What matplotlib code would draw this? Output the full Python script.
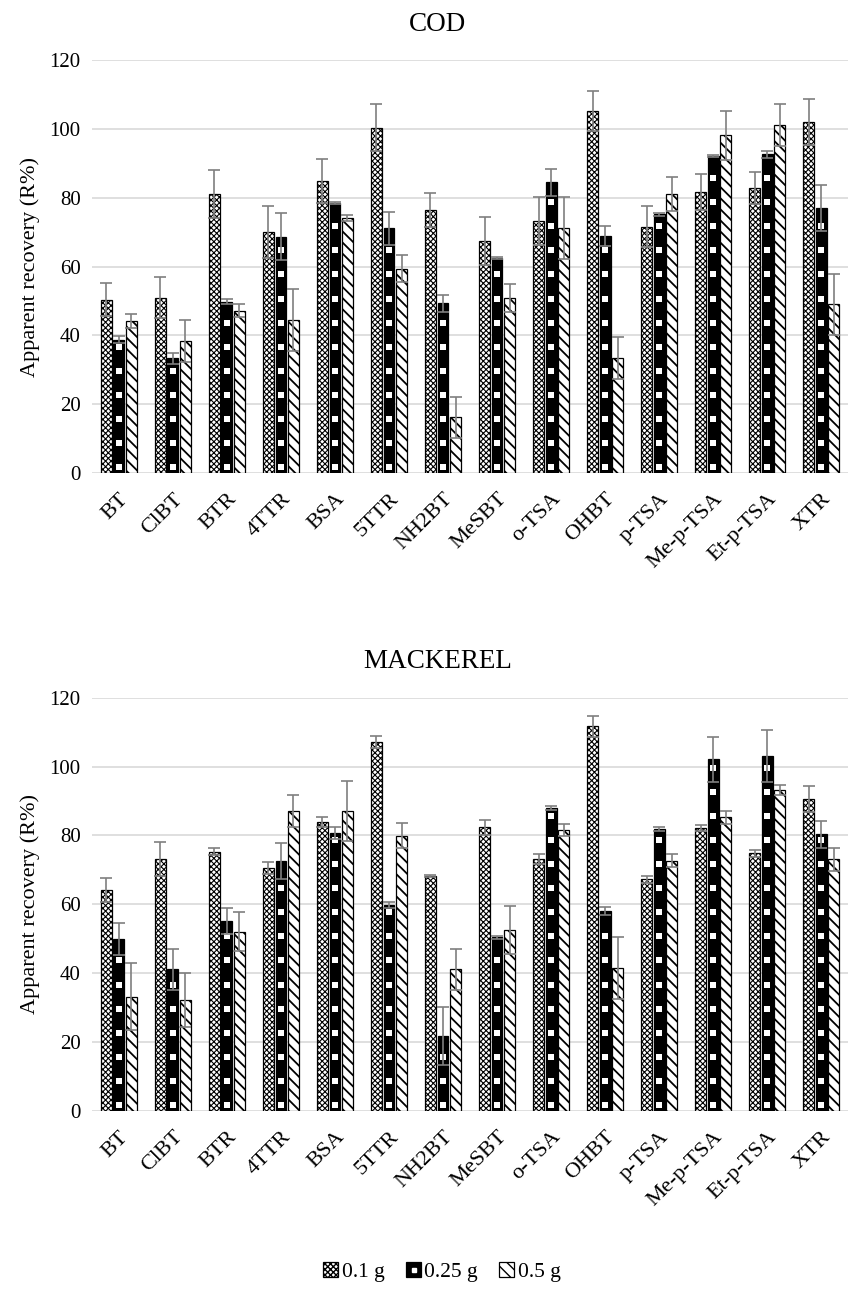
import numpy as np
import matplotlib
matplotlib.use("Agg")
import matplotlib.pyplot as plt
from matplotlib.lines import Line2D
from matplotlib.patches import Patch
from matplotlib.legend_handler import HandlerTuple

compounds = ["BT", "ClBT", "BTR", "4TTR", "BSA", "5TTR", "NH2BT", "MeSBT",
             "o-TSA", "OHBT", "p-TSA", "Me-p-TSA", "Et-p-TSA", "XTR"]
doses = ["0.1 g", "0.25 g", "0.5 g"]

# COD recoveries (%) and standard deviations
cod_01 = [50.3, 51.0, 81.0, 70.1, 84.8, 100.4, 76.4, 67.4, 73.2, 105.2, 71.6, 81.6, 82.9, 101.9]
cod_01_sd = [4.8, 6.0, 7.0, 7.5, 6.4, 6.7, 5.0, 7.0, 7.0, 5.8, 6.0, 5.3, 4.7, 6.7]
cod_025 = [38.8, 33.3, 49.8, 68.7, 78.4, 71.1, 49.3, 62.4, 84.5, 68.9, 75.2, 92.1, 92.6, 77.1]
cod_025_sd = [1.0, 1.6, 0.7, 6.8, 0.3, 4.7, 2.4, 0.3, 3.9, 3.0, 0.5, 0.3, 1.0, 6.7]
cod_05 = [44.2, 38.4, 47.2, 44.5, 74.1, 59.4, 16.2, 50.9, 71.1, 33.3, 81.0, 98.1, 101.1, 49.0]
cod_05_sd = [2.0, 6.0, 2.0, 9.0, 0.9, 4.0, 6.0, 4.0, 9.0, 6.1, 5.0, 7.0, 6.0, 8.9]

# MACKEREL recoveries (%) and standard deviations
mack_01 = [64.2, 73.1, 75.3, 70.5, 83.9, 107.1, 68.2, 82.3, 73.1, 111.7, 67.2, 82.1, 74.8, 90.6]
mack_01_sd = [3.4, 5.0, 1.1, 1.8, 1.4, 1.7, 0.3, 2.1, 1.4, 3.1, 0.9, 0.8, 1.0, 3.7]
mack_025 = [49.9, 41.1, 55.2, 72.6, 80.6, 59.8, 21.8, 50.4, 88.0, 58.1, 81.8, 102.1, 103.0, 80.3]
mack_025_sd = [4.6, 5.9, 3.8, 5.2, 1.7, 1.0, 8.5, 0.5, 0.6, 1.1, 0.5, 6.6, 7.5, 4.0]
mack_05 = [33.2, 32.2, 52.0, 87.1, 87.1, 79.9, 41.1, 52.5, 81.5, 41.6, 72.6, 85.2, 93.2, 73.1]
mack_05_sd = [9.8, 7.9, 5.7, 4.7, 8.7, 3.7, 5.9, 7.0, 1.8, 9.0, 1.9, 2.0, 1.5, 3.3]

plt.rcParams["font.family"] = ["Liberation Serif", "DejaVu Serif"]

GRID = "#d9d9d9"
ERR = "#7f7f7f"
W = 0.2
OFF = 0.232


def hatch_lw(bars, lw):
    for p in bars:
        if hasattr(p, "set_hatch_linewidth"):
            p.set_hatch_linewidth(lw)


def draw_panel(ax, title, series, errors):
    x = np.arange(len(compounds))
    handles = []
    for i, (vals, sd) in enumerate(zip(series, errors)):
        pos = x + (i - 1) * OFF
        if i == 0:
            h = ax.bar(pos, vals, W, color="white", edgecolor="black",
                       linewidth=0.9, hatch="xxxxxx", zorder=2)
            hatch_lw(h, 0.8)
        elif i == 1:
            h = ax.bar(pos, vals, W, color="black", edgecolor="black",
                       linewidth=0.9, zorder=2)
            # column of white squares inside each black bar
            for xp, v in zip(pos, vals):
                ys = np.arange(1.7, v - 1.2, 7.0)
                ax.scatter(np.full(len(ys), xp), ys, marker="s", s=15,
                           color="white", linewidths=0, zorder=2.5)
        else:
            h = ax.bar(pos, vals, W, color="white", edgecolor="black",
                       linewidth=0.9, hatch="\\\\\\", zorder=2)
            hatch_lw(h, 1.3)
        handles.append(h)
        ax.errorbar(pos, vals, yerr=sd, fmt="none", ecolor=ERR,
                    elinewidth=1.2, capsize=4, capthick=1.2, zorder=3)

    ax.set_xlim(-0.5, len(compounds) - 0.5)
    ax.set_ylim(0, 120)
    ax.set_yticks(range(0, 121, 20))
    ax.yaxis.grid(True, color=GRID, linewidth=1.2)
    ax.set_axisbelow(True)
    for s in ax.spines.values():
        s.set_visible(False)
    ax.tick_params(length=0, labelsize=15, pad=8)
    ax.set_xticks(x)
    ax.set_xticklabels(compounds, rotation=45, ha="right",
                       rotation_mode="anchor", fontsize=16)
    ax.tick_params(axis="x", pad=12)
    ax.set_ylabel("Apparent recovery (R%)", fontsize=16, labelpad=7)
    ax.set_title(title, fontsize=19.5, pad=21, x=0.457)
    return handles


fig = plt.figure(figsize=(8.5, 13.06), dpi=100)
ax1 = fig.add_axes([0.108, 0.6378, 0.89, 0.3162])
ax2 = fig.add_axes([0.108, 0.1494, 0.89, 0.3164])

h = draw_panel(ax1, "COD", [cod_01, cod_025, cod_05],
               [cod_01_sd, cod_025_sd, cod_05_sd])
draw_panel(ax2, "MACKEREL", [mack_01, mack_025, mack_05],
           [mack_01_sd, mack_025_sd, mack_05_sd])

black_box = Patch(facecolor="black", edgecolor="black", linewidth=0.9)
dot = Line2D([], [], marker="s", color="white", markersize=3.5, linestyle="none")
fig.legend([h[0], (black_box, dot), h[2]], doses, loc="center",
           bbox_to_anchor=(0.52, 0.026), ncol=3, frameon=False, fontsize=15.5,
           handlelength=0.7, handleheight=0.7, handletextpad=0.15,
           columnspacing=1.0, handler_map={tuple: HandlerTuple(ndivide=1)})

fig.savefig("out.png", dpi=100)
